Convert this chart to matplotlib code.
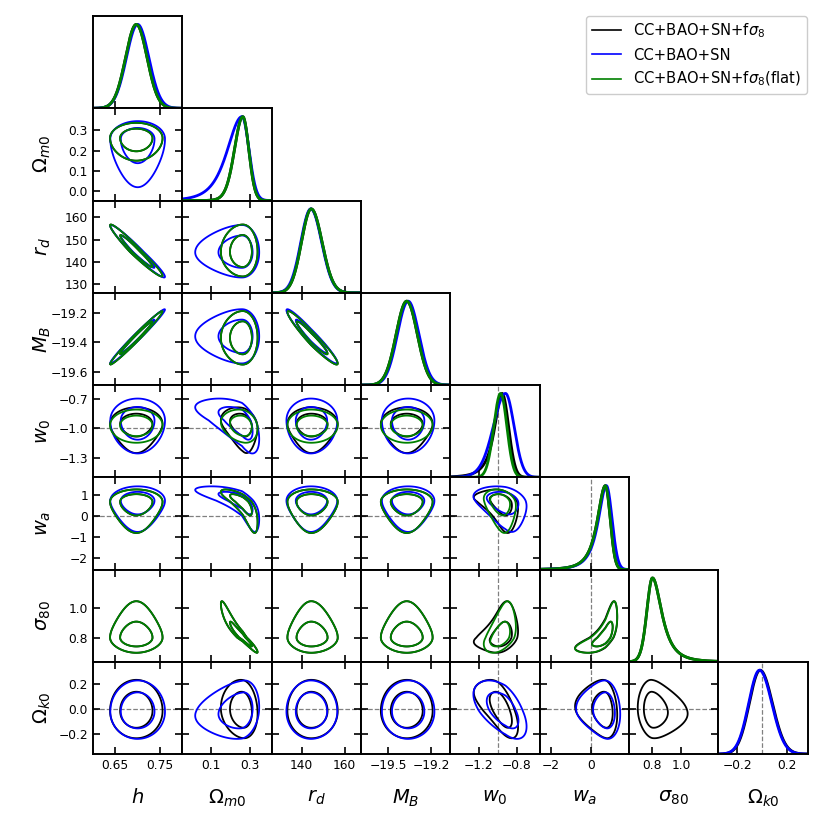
import numpy as np
import matplotlib
matplotlib.use("Agg")
import matplotlib.pyplot as plt
from matplotlib.lines import Line2D

# ---------------- data ----------------
params = ["h", "Om", "rd", "MB", "w0", "wa", "s8", "Ok"]
axis_labels = [r"$h$", r"$\Omega_{m0}$", r"$r_d$", r"$M_B$", r"$w_0$", r"$w_a$",
               r"$\sigma_{80}$", r"$\Omega_{k0}$"]
range_lo = [0.600, -0.048, 126.2, -19.69, -1.495, -2.55, 0.638, -0.355]
range_hi = [0.800, 0.410, 167.5, -19.065, -0.563, 1.87, 1.255, 0.372]

xticks = [[0.65, 0.75], [0.1, 0.3], [140, 160], [-19.5, -19.2], [-1.2, -0.8],
          [-2, 0], [0.8, 1.0], [-0.2, 0.2]]
xticklabels = [["0.65", "0.75"], ["0.1", "0.3"], ["140", "160"], ["\u221219.5", "\u221219.2"],
               ["\u22121.2", "\u22120.8"], ["\u22122", "0"], ["0.8", "1.0"], ["\u22120.2", "0.2"]]
yticks = [[], [0.0, 0.1, 0.2, 0.3], [130, 140, 150, 160], [-19.6, -19.4, -19.2],
          [-1.3, -1.0, -0.7], [-2, -1, 0, 1], [0.8, 1.0], [-0.2, 0.0, 0.2]]
yticklabels = [[], ["0.0", "0.1", "0.2", "0.3"], ["130", "140", "150", "160"],
               ["\u221219.6", "\u221219.4", "\u221219.2"], ["\u22121.3", "\u22121.0", "\u22120.7"],
               ["\u22122", "\u22121", "0", "1"], ["0.8", "1.0"], ["\u22120.2", "0.0", "0.2"]]
# reference (dashed) values
ref_values = {"w0": -1.0, "wa": 0.0, "Ok": 0.0}

chain_names = ["CC+BAO+SN+f$\\sigma_8$", "CC+BAO+SN", "CC+BAO+SN+f$\\sigma_8$(flat)"]
chain_colors = ["black", "blue", "green"]

# per chain: mode, left/right width, left/right tail heaviness (None = not in chain)
mode_black = [0.697, 0.262, 144.5, -19.37, -0.955, 0.70, 0.800, -0.015]
sl_black   = [0.024, 0.042, 4.5, 0.074, 0.068, 0.345, 0.038, 0.088]
sr_black   = [0.024, 0.031, 5.0, 0.074, 0.068, 0.24, 0.056, 0.100]
kl_black   = [0.0, 0.3, 0.0, 0.0, 0.8, 0.8, 0.3, 0.0]
kr_black   = [0.0, 0.0, 0.0, 0.0, 0.0, 0.0, 0.8, 0.0]

mode_blue = [0.700, 0.258, 144.3, -19.36, -0.920, 0.75, None, -0.020]
sl_blue   = [0.025, 0.070, 4.6, 0.075, 0.125, 0.345, None, 0.088]
sr_blue   = [0.025, 0.036, 5.0, 0.075, 0.090, 0.28, None, 0.100]
kl_blue   = [0.0, 0.6, 0.0, 0.0, 0.3, 0.8, None, 0.0]
kr_blue   = [0.0, 0.0, 0.0, 0.0, 0.0, 0.0, None, 0.0]

mode_green = [0.697, 0.262, 144.5, -19.37, -0.970, 0.70, 0.800, None]
sl_green   = [0.024, 0.042, 4.5, 0.074, 0.072, 0.345, 0.038, None]
sr_green   = [0.024, 0.031, 5.0, 0.074, 0.065, 0.24, 0.056, None]
kl_green   = [0.0, 0.3, 0.0, 0.0, 0.0, 0.8, 0.3, None]
kr_green   = [0.0, 0.0, 0.0, 0.0, 0.0, 0.0, 0.8, None]

# pair correlations (pairs not listed are ~0)
rho_black = {("h", "rd"): -0.97, ("h", "MB"): 0.985, ("rd", "MB"): -0.96,
             ("Om", "w0"): -0.25, ("Om", "wa"): -0.80, ("Om", "s8"): -0.96, ("Om", "Ok"): -0.10,
             ("w0", "wa"): -0.35, ("w0", "s8"): 0.30, ("w0", "Ok"): -0.60,
             ("wa", "s8"): 0.72, ("wa", "Ok"): -0.15, ("s8", "Ok"): -0.10}
rho_blue = {("h", "rd"): -0.97, ("h", "MB"): 0.985, ("rd", "MB"): -0.96,
            ("Om", "w0"): -0.60, ("Om", "wa"): -0.75, ("Om", "Ok"): 0.15,
            ("w0", "wa"): -0.30, ("w0", "Ok"): -0.55, ("wa", "Ok"): -0.10}
rho_green = {("h", "rd"): -0.97, ("h", "MB"): 0.985, ("rd", "MB"): -0.96,
             ("Om", "w0"): -0.20, ("Om", "wa"): -0.80, ("Om", "s8"): -0.96,
             ("w0", "wa"): -0.25, ("w0", "s8"): 0.45, ("wa", "s8"): 0.75}

chains = [(mode_black, sl_black, sr_black, kl_black, kr_black, rho_black),
          (mode_blue, sl_blue, sr_blue, kl_blue, kr_blue, rho_blue),
          (mode_green, sl_green, sr_green, kl_green, kr_green, rho_green)]

# 2D credible levels (68%, 95%) as chi^2 with 2 dof
levels2d = [-2 * np.log(1 - 0.68), -2 * np.log(1 - 0.95)]

# ---------------- figure ----------------
fig = plt.figure(figsize=(8.25, 8.25), dpi=100)
n = len(params)
left, right, top, bottom = 0.1127, 0.979, 0.9806, 0.086
cw = (right - left) / n
rh = (top - bottom) / n
tick_fs = 8.8
label_fs = 14


def std(x, c, k):
    m, sl, sr, kl, kr = (c[0][k], c[1][k], c[2][k], c[3][k], c[4][k])
    z = np.where(x < m, (x - m) / sl, (x - m) / sr)
    kk = np.where(x < m, kl, kr)
    safe = np.where(kk > 0, kk, 1.0)
    return np.where(kk > 0, np.arcsinh(safe * z) / safe, z)


for i in range(n):
    for j in range(i + 1):
        ax = fig.add_axes([left + j * cw, top - (i + 1) * rh, cw, rh])
        for s in ax.spines.values():
            s.set_linewidth(1.4)
        xs = np.linspace(range_lo[j], range_hi[j], 400)
        if i == j:
            for c, col in zip(chains, chain_colors):
                if c[0][i] is None:
                    continue
                u = std(xs, c, i)
                ax.plot(xs, np.exp(-0.5 * u ** 2), color=col, lw=2.0)
            ax.set_ylim(0, 1.1)
            ax.set_yticks([])
            if params[i] in ref_values:
                ax.axvline(ref_values[params[i]], color="gray", ls="--", lw=0.9, zorder=0)
            ax.tick_params(axis="x", direction="in", length=5, width=1.2,
                           top=False, bottom=True, labelsize=tick_fs)
        else:
            ys = np.linspace(range_lo[i], range_hi[i], 400)
            X, Y = np.meshgrid(xs, ys)
            for c, col in zip(chains, chain_colors):
                if c[0][i] is None or c[0][j] is None:
                    continue
                rho = c[5]
                r = rho.get((params[j], params[i]), rho.get((params[i], params[j]), 0.0))
                u = std(X, c, j)
                v = std(Y, c, i)
                r2 = (u ** 2 - 2 * r * u * v + v ** 2) / (1 - r ** 2)
                ax.contour(X, Y, r2, levels=levels2d, colors=col, linewidths=1.3)
            if params[i] in ref_values:
                ax.axhline(ref_values[params[i]], color="gray", ls="--", lw=0.9, zorder=0)
            if params[j] in ref_values:
                ax.axvline(ref_values[params[j]], color="gray", ls="--", lw=0.9, zorder=0)
            ax.set_ylim(range_lo[i], range_hi[i])
            ax.set_yticks(yticks[i])
            ax.set_yticklabels(yticklabels[i])
            ax.tick_params(axis="both", direction="in", length=5, width=1.2,
                           top=True, bottom=True, left=True, right=True, labelsize=tick_fs)
            if j == 0:
                ax.set_ylabel(axis_labels[i], fontsize=label_fs)
                ax.yaxis.set_label_coords(-0.45, 0.5)
            else:
                ax.set_yticklabels([])
        ax.set_xlim(range_lo[j], range_hi[j])
        ax.set_xticks(xticks[j])
        if i == n - 1:
            ax.set_xticklabels(xticklabels[j])
            ax.set_xlabel(axis_labels[j], fontsize=label_fs)
            ax.xaxis.set_label_coords(0.5, -0.37)
        else:
            ax.set_xticklabels([])

handles = [Line2D([0], [0], color=c, lw=1.2) for c in chain_colors]
fig.legend(handles, chain_names, loc="upper right", bbox_to_anchor=(0.978, 0.981),
           fontsize=10.6, borderaxespad=0.0, framealpha=1.0)

fig.savefig("out.png", dpi=100)
